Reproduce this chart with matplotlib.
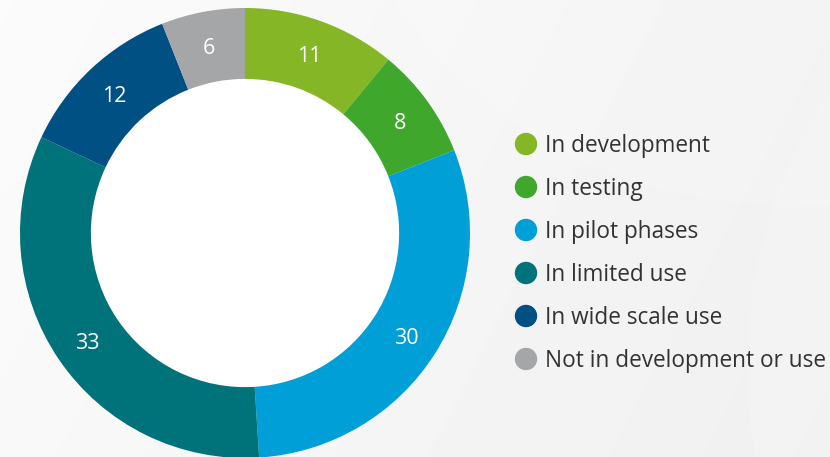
import numpy as np
import matplotlib.pyplot as plt
from matplotlib.patches import Ellipse

labels = ['In development', 'In testing', 'In pilot phases',
          'In limited use', 'In wide scale use', 'Not in development or use']
values = [11, 8, 30, 33, 12, 6]
colors = ['#84b626', '#3fa72b', '#009fd8', '#00727a', '#005083', '#a5a6a8']

plt.rcParams['font.family'] = ['Open Sans', 'DejaVu Sans']

fig = plt.figure(figsize=(8.3, 4.57), dpi=100)

# soft grey background with a faint light sweep
bg = fig.add_axes([0, 0, 1, 1])
xx, yy = np.meshgrid(np.linspace(0, 1, 300), np.linspace(0, 1, 200))
shade = 0.975 - 0.035 * xx + 0.01 * yy
bg.imshow(shade, cmap='gray', vmin=0, vmax=1, extent=[0, 1, 0, 1],
          aspect='auto', origin='lower')
t = np.linspace(0, 2 * np.pi, 400)
bg.fill(0.95 + 0.55 * np.cos(t), 1.45 + 0.9 * np.sin(t), color='white', alpha=0.15, lw=0)
bg.fill(1.35 + 0.45 * np.cos(t), 0.2 + 0.95 * np.sin(t), color='white', alpha=0.15, lw=0)
bg.set_xlim(0, 1)
bg.set_ylim(0, 1)
bg.axis('off')

ax = fig.add_axes([20 / 830, -1 / 457, 450 / 830, 450 / 457])
ax.pie(values, colors=colors, startangle=90, counterclock=False,
       radius=1.0, wedgeprops=dict(width=0.315, edgecolor='none'))
ax.add_patch(plt.Circle((0, 0), 0.685, color='white', zorder=0))

# value labels in the middle of each ring segment
cum = np.cumsum([0] + values)
total = sum(values)
for i, v in enumerate(values):
    mid = 90 - 360 * (cum[i] + v / 2) / total
    r = 0.85
    ax.text(r * np.cos(np.radians(mid)), r * np.sin(np.radians(mid)) - 0.015, str(v),
            color='white', fontsize=15.5, ha='center', va='center')
ax.set_xlim(-1, 1)
ax.set_ylim(-1, 1)
ax.set_aspect('equal')
ax.axis('off')

# legend
y0 = 144
for i, (lab, c) in enumerate(zip(labels, colors)):
    y = 1 - (y0 + i * 43) / 457
    fig.patches.append(Ellipse((526 / 830, y), 21 / 830, 21 / 457, color=c,
                               transform=fig.transFigure, figure=fig))
    fig.text(545 / 830, y - 2 / 457, lab, fontsize=16.3, color='#333333',
             va='center', ha='left')

fig.savefig('out.png', dpi=100)
